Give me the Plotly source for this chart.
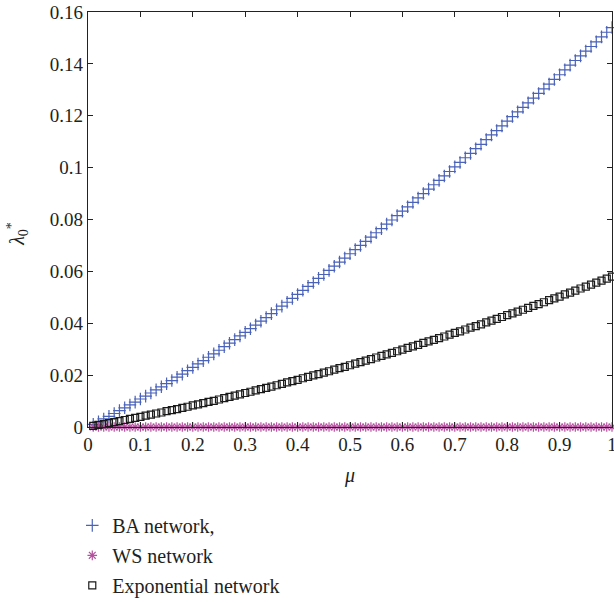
import plotly.graph_objects as go

# Load parameter mu (100 samples from 0.01 to 1.00)
mu = [round(0.01 * k, 2) for k in range(1, 101)]

# Epidemic threshold lambda_0* for each network model
ba_network = [
    0.0010, 0.0020, 0.0031, 0.0041, 0.0052, 0.0063, 0.0074, 0.0085, 0.0096, 0.0108,
    0.0119, 0.0131, 0.0143, 0.0155, 0.0167, 0.0179, 0.0192, 0.0204, 0.0217, 0.0230,
    0.0243, 0.0256, 0.0269, 0.0282, 0.0296, 0.0310, 0.0323, 0.0337, 0.0351, 0.0365,
    0.0379, 0.0393, 0.0408, 0.0422, 0.0437, 0.0452, 0.0466, 0.0481, 0.0496, 0.0511,
    0.0527, 0.0542, 0.0557, 0.0573, 0.0588, 0.0604, 0.0620, 0.0636, 0.0651, 0.0668,
    0.0684, 0.0700, 0.0716, 0.0732, 0.0749, 0.0765, 0.0782, 0.0798, 0.0815, 0.0832,
    0.0849, 0.0866, 0.0883, 0.0900, 0.0917, 0.0934, 0.0951, 0.0968, 0.0985, 0.1003,
    0.1020, 0.1038, 0.1055, 0.1073, 0.1090, 0.1108, 0.1126, 0.1143, 0.1161, 0.1179,
    0.1197, 0.1215, 0.1232, 0.1250, 0.1268, 0.1286, 0.1304, 0.1322, 0.1340, 0.1358,
    0.1377, 0.1395, 0.1413, 0.1431, 0.1449, 0.1467, 0.1485, 0.1504, 0.1522, 0.1540,
]

ws_network = [0.0] * 100

exp_network = [
    0.0004, 0.0008, 0.0011, 0.0015, 0.0019, 0.0023, 0.0027, 0.0031, 0.0035, 0.0039,
    0.0044, 0.0048, 0.0052, 0.0056, 0.0061, 0.0065, 0.0069, 0.0074, 0.0078, 0.0083,
    0.0087, 0.0092, 0.0097, 0.0101, 0.0106, 0.0111, 0.0116, 0.0121, 0.0126, 0.0131,
    0.0136, 0.0141, 0.0146, 0.0151, 0.0156, 0.0161, 0.0166, 0.0172, 0.0177, 0.0182,
    0.0188, 0.0193, 0.0199, 0.0204, 0.0210, 0.0215, 0.0221, 0.0227, 0.0232, 0.0238,
    0.0244, 0.0250, 0.0256, 0.0262, 0.0268, 0.0274, 0.0280, 0.0286, 0.0292, 0.0298,
    0.0305, 0.0311, 0.0317, 0.0324, 0.0330, 0.0336, 0.0343, 0.0349, 0.0356, 0.0363,
    0.0369, 0.0376, 0.0383, 0.0389, 0.0396, 0.0403, 0.0410, 0.0417, 0.0424, 0.0431,
    0.0438, 0.0445, 0.0452, 0.0459, 0.0467, 0.0474, 0.0481, 0.0489, 0.0496, 0.0503,
    0.0511, 0.0518, 0.0526, 0.0534, 0.0541, 0.0549, 0.0557, 0.0564, 0.0572, 0.0580,
]

x_ticks = [0, 0.1, 0.2, 0.3, 0.4, 0.5, 0.6, 0.7, 0.8, 0.9, 1]
x_tick_text = ["0", "0.1", "0.2", "0.3", "0.4", "0.5", "0.6", "0.7", "0.8", "0.9", "1"]
y_ticks = [0, 0.02, 0.04, 0.06, 0.08, 0.1, 0.12, 0.14, 0.16]
y_tick_text = ["0", "0.02", "0.04", "0.06", "0.08", "0.1", "0.12", "0.14", "0.16"]

SERIF = "Liberation Serif"
TEXT = "#231f20"

fig = go.Figure()

fig.add_trace(go.Scatter(
    x=mu, y=ba_network, mode="markers", name="BA network,", legendgroup="ba",
    cliponaxis=False,
    marker=dict(symbol="cross-thin-open", size=9, color="#4a62b8",
                line=dict(width=1.2, color="#4a62b8")),
))
fig.add_trace(go.Scatter(
    x=mu, y=ws_network, mode="markers", name="WS network", legendgroup="ws",
    cliponaxis=False,
    marker=dict(symbol="asterisk-open", size=8, color="#b5509f",
                line=dict(width=1.2, color="#b5509f")),
))
fig.add_trace(go.Scatter(
    x=mu, y=exp_network, mode="markers", name="Exponential network", legendgroup="exp",
    cliponaxis=False,
    marker=dict(symbol="square-open", size=7, color="#1a1a1a",
                line=dict(width=1.2, color="#1a1a1a")),
))

axis_common = dict(
    showline=True, linecolor="#222", linewidth=1.2, mirror="ticks",
    ticks="inside", ticklen=5, tickcolor="#222", tickwidth=1,
    showgrid=False, zeroline=False, automargin=False,
    ticklabeloverflow="allow",
    tickfont=dict(family=SERIF, size=19, color=TEXT),
)

fig.update_layout(
    width=614, height=603,
    margin=dict(l=88, r=2, t=12, b=176, autoexpand=False),
    paper_bgcolor="white", plot_bgcolor="white",
    font=dict(family=SERIF, size=19, color=TEXT),
    showlegend=True,
    legend=dict(
        x=-0.03, xanchor="left", y=-0.19, yanchor="top",
        font=dict(family=SERIF, size=20, color=TEXT),
        bgcolor="rgba(0,0,0,0)", itemsizing="trace",
        traceorder="grouped", tracegroupgap=1,
    ),
    xaxis=dict(
        range=[0, 1], tickvals=x_ticks, ticktext=x_tick_text,
        title=dict(text="<i>μ</i>", font=dict(family=SERIF, size=20, color=TEXT), standoff=14),
        **axis_common,
    ),
    yaxis=dict(
        range=[0, 0.16], tickvals=y_ticks, ticktext=y_tick_text,
        **axis_common,
    ),
    annotations=[dict(
        text="<i>λ</i><sub>0</sub><sup>*</sup>",
        xref="paper", yref="paper", x=-0.134, y=0.465,
        xanchor="center", yanchor="middle", textangle=-90, showarrow=False,
        font=dict(family=SERIF, size=20, color=TEXT),
    )],
)

fig.write_html("out.html")
